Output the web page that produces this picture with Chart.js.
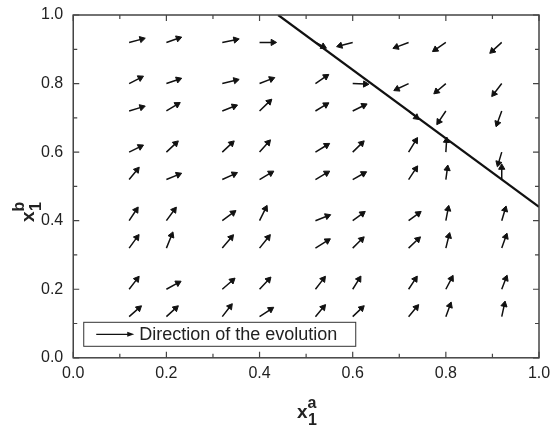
<!DOCTYPE html>
<html>
<head>
<meta charset="utf-8">
<script src="https://cdn.jsdelivr.net/npm/chart.js@4.4.1/dist/chart.umd.min.js"></script>
<style>
  html, body { margin: 0; padding: 0; background: #fff; }
</style>
</head>
<body>
<canvas id="chart" width="550" height="430"></canvas>
<script>
// starting points of the arrows (same grid on both axes)
const gridX = [0.12, 0.2, 0.32, 0.4, 0.52, 0.6, 0.72, 0.8, 0.92];
const gridY = [0.12, 0.2, 0.32, 0.4, 0.52, 0.6, 0.72, 0.8, 0.92];

// arrow components, one row per gridY value (bottom to top), one column per gridX value
const arrowU = [
  [0.026, 0.025, 0.021, 0.030, 0.021, 0.024, 0.021, 0.011, 0.007],
  [0.021, 0.031, 0.027, 0.024, 0.021, 0.017, 0.018, 0.015, 0.011],
  [0.021, 0.014, 0.024, 0.023, 0.032, 0.024, 0.025, 0.008, 0.011],
  [0.019, 0.021, 0.029, 0.016, 0.032, 0.026, 0.026, 0.006, 0.009],
  [0.021, 0.032, 0.032, 0.030, 0.030, 0.029, 0.019, 0.004, 0.000],
  [0.030, 0.025, 0.025, 0.023, 0.030, 0.024, 0.019, 0.002, -0.009],
  [0.034, 0.029, 0.032, 0.026, 0.028, 0.030, 0.021, -0.019, -0.012],
  [0.030, 0.032, 0.036, 0.032, 0.028, 0.034, -0.031, -0.025, -0.021],
  [0.034, 0.032, 0.036, 0.036, 0.021, -0.034, -0.033, -0.028, -0.025]
];
const arrowV = [
  [0.031, 0.031, 0.037, 0.027, 0.034, 0.031, 0.034, 0.041, 0.044],
  [0.037, 0.023, 0.032, 0.035, 0.037, 0.037, 0.037, 0.039, 0.039],
  [0.039, 0.047, 0.039, 0.039, 0.027, 0.032, 0.032, 0.044, 0.042],
  [0.039, 0.039, 0.029, 0.044, 0.017, 0.026, 0.026, 0.043, 0.041],
  [0.035, 0.018, 0.020, 0.024, 0.024, 0.022, 0.039, 0.040, 0.044],
  [0.020, 0.032, 0.032, 0.035, 0.025, 0.032, 0.042, 0.042, -0.041],
  [0.014, 0.024, 0.017, 0.034, 0.023, 0.020, -0.023, -0.039, -0.045],
  [0.021, 0.015, 0.012, 0.017, 0.026, -0.002, -0.020, -0.029, -0.037],
  [0.012, 0.015, 0.010, 0.000, -0.015, -0.012, -0.017, -0.026, -0.031]
];

// boundary line
const boundaryX = [0.44, 1.0];
const boundaryY = [1.0, 0.44];

const legendLabel = 'Direction of the evolution';

// build shafts (with gaps) and heads from the arrays
const HEAD_AT = 0.8;
const shafts = [];
const heads = [];
gridY.forEach((y, r) => {
  gridX.forEach((x, c) => {
    const u = arrowU[r][c], v = arrowV[r][c];
    const hx = x + u * HEAD_AT, hy = y + v * HEAD_AT;
    shafts.push({ x: x, y: y }, { x: hx, y: hy }, { x: hx, y: null });
    heads.push({ x: hx, y: hy, u: u, v: v });
  });
});

const FONT = "'Liberation Sans', Arial, sans-serif";

// frame, inward ticks, axis titles and the legend box
const decor = {
  id: 'decor',
  afterDraw(chart) {
    const { ctx, chartArea: a, scales } = chart;
    ctx.save();
    ctx.strokeStyle = '#444';
    ctx.lineWidth = 1.5;
    ctx.strokeRect(a.left, a.top, a.right - a.left, a.bottom - a.top);

    ctx.lineWidth = 1.2;
    ctx.beginPath();
    for (let i = 0; i <= 10; i++) {
      const len = i % 2 === 0 ? 6 : 4;
      const px = scales.x.getPixelForValue(i / 10);
      const py = scales.y.getPixelForValue(i / 10);
      ctx.moveTo(px, a.bottom); ctx.lineTo(px, a.bottom - len);
      ctx.moveTo(px, a.top); ctx.lineTo(px, a.top + len);
      ctx.moveTo(a.left, py); ctx.lineTo(a.left + len, py);
      ctx.moveTo(a.right, py); ctx.lineTo(a.right - len, py);
    }
    ctx.stroke();

    // axis titles
    ctx.fillStyle = '#222';
    ctx.textBaseline = 'alphabetic';
    ctx.textAlign = 'left';
    const cx = (a.left + a.right) / 2;
    const titleSym = (x0, y0, sup) => {
      ctx.font = 'bold 19px ' + FONT;
      ctx.fillText('x', x0, y0);
      ctx.font = 'bold 16px ' + FONT;
      ctx.fillText(sup, x0 + 10.5, y0 - 10);
      ctx.fillText('1', x0 + 11, y0 + 7);
    };
    titleSym(cx - 9, 418, 'a');
    ctx.save();
    ctx.translate(33.5, 222);
    ctx.rotate(-Math.PI / 2);
    titleSym(0, 0, 'b');
    ctx.restore();

    // legend
    const bx = a.left + 10, by = a.bottom - 36, bw = 272, bh = 24;
    ctx.fillStyle = '#fff';
    ctx.fillRect(bx, by, bw, bh);
    ctx.strokeStyle = '#333';
    ctx.lineWidth = 1;
    ctx.strokeRect(bx + 0.5, by + 0.5, bw, bh);
    const ly = by + bh / 2 + 0.5;
    ctx.strokeStyle = '#111';
    ctx.lineWidth = 1.2;
    ctx.beginPath();
    ctx.moveTo(bx + 13, ly); ctx.lineTo(bx + 46, ly);
    ctx.stroke();
    ctx.fillStyle = '#111';
    ctx.beginPath();
    ctx.moveTo(bx + 51, ly); ctx.lineTo(bx + 44, ly - 2.5); ctx.lineTo(bx + 44, ly + 2.5);
    ctx.closePath();
    ctx.fill();
    ctx.fillStyle = '#222';
    ctx.font = '18px ' + FONT;
    ctx.textBaseline = 'middle';
    ctx.fillText(legendLabel, bx + 56, ly + 1);
    ctx.restore();
  }
};

new Chart(document.getElementById('chart'), {
  type: 'scatter',
  data: {
    datasets: [
      {
        type: 'line',
        label: 'Boundary',
        data: boundaryX.map((x, i) => ({ x: x, y: boundaryY[i] })),
        borderColor: '#111',
        borderWidth: 2.2,
        pointRadius: 0
      },
      {
        type: 'line',
        label: 'Shafts',
        data: shafts,
        borderColor: '#111',
        borderWidth: 1.5,
        pointRadius: 0,
        spanGaps: false
      },
      {
        label: 'Heads',
        data: heads,
        pointStyle: 'triangle',
        radius: 3.6,
        backgroundColor: '#111',
        borderColor: '#111',
        borderWidth: 1,
        rotation: (c) => {
          if (!c.raw) return 0;
          const s = c.chart.scales;
          const dx = s.x.getPixelForValue(c.raw.u) - s.x.getPixelForValue(0);
          const dy = s.y.getPixelForValue(c.raw.v) - s.y.getPixelForValue(0);
          return Math.atan2(dx, -dy) * 180 / Math.PI;
        }
      }
    ]
  },
  options: {
    responsive: false,
    animation: false,
    devicePixelRatio: 1,
    layout: { padding: { left: 31, top: 15, right: 11, bottom: 41 } },
    plugins: {
      legend: { display: false },
      tooltip: { enabled: false }
    },
    scales: {
      x: {
        type: 'linear',
        min: 0,
        max: 1,
        grid: { display: false, drawTicks: false },
        border: { display: false },
        afterFit: (s) => { s.paddingLeft = 0; s.paddingRight = 0; },
        ticks: {
          stepSize: 0.2,
          padding: 6,
          color: '#222',
          font: { family: FONT, size: 16 },
          callback: (v) => v.toFixed(1)
        }
      },
      y: {
        type: 'linear',
        min: 0,
        max: 1,
        grid: { display: false, drawTicks: false },
        border: { display: false },
        afterFit: (s) => { s.paddingTop = 0; s.paddingBottom = 0; },
        ticks: {
          stepSize: 0.2,
          padding: 10,
          color: '#222',
          font: { family: FONT, size: 16 },
          callback: (v) => v.toFixed(1)
        }
      }
    }
  },
  plugins: [decor]
});
</script>
</body>
</html>
